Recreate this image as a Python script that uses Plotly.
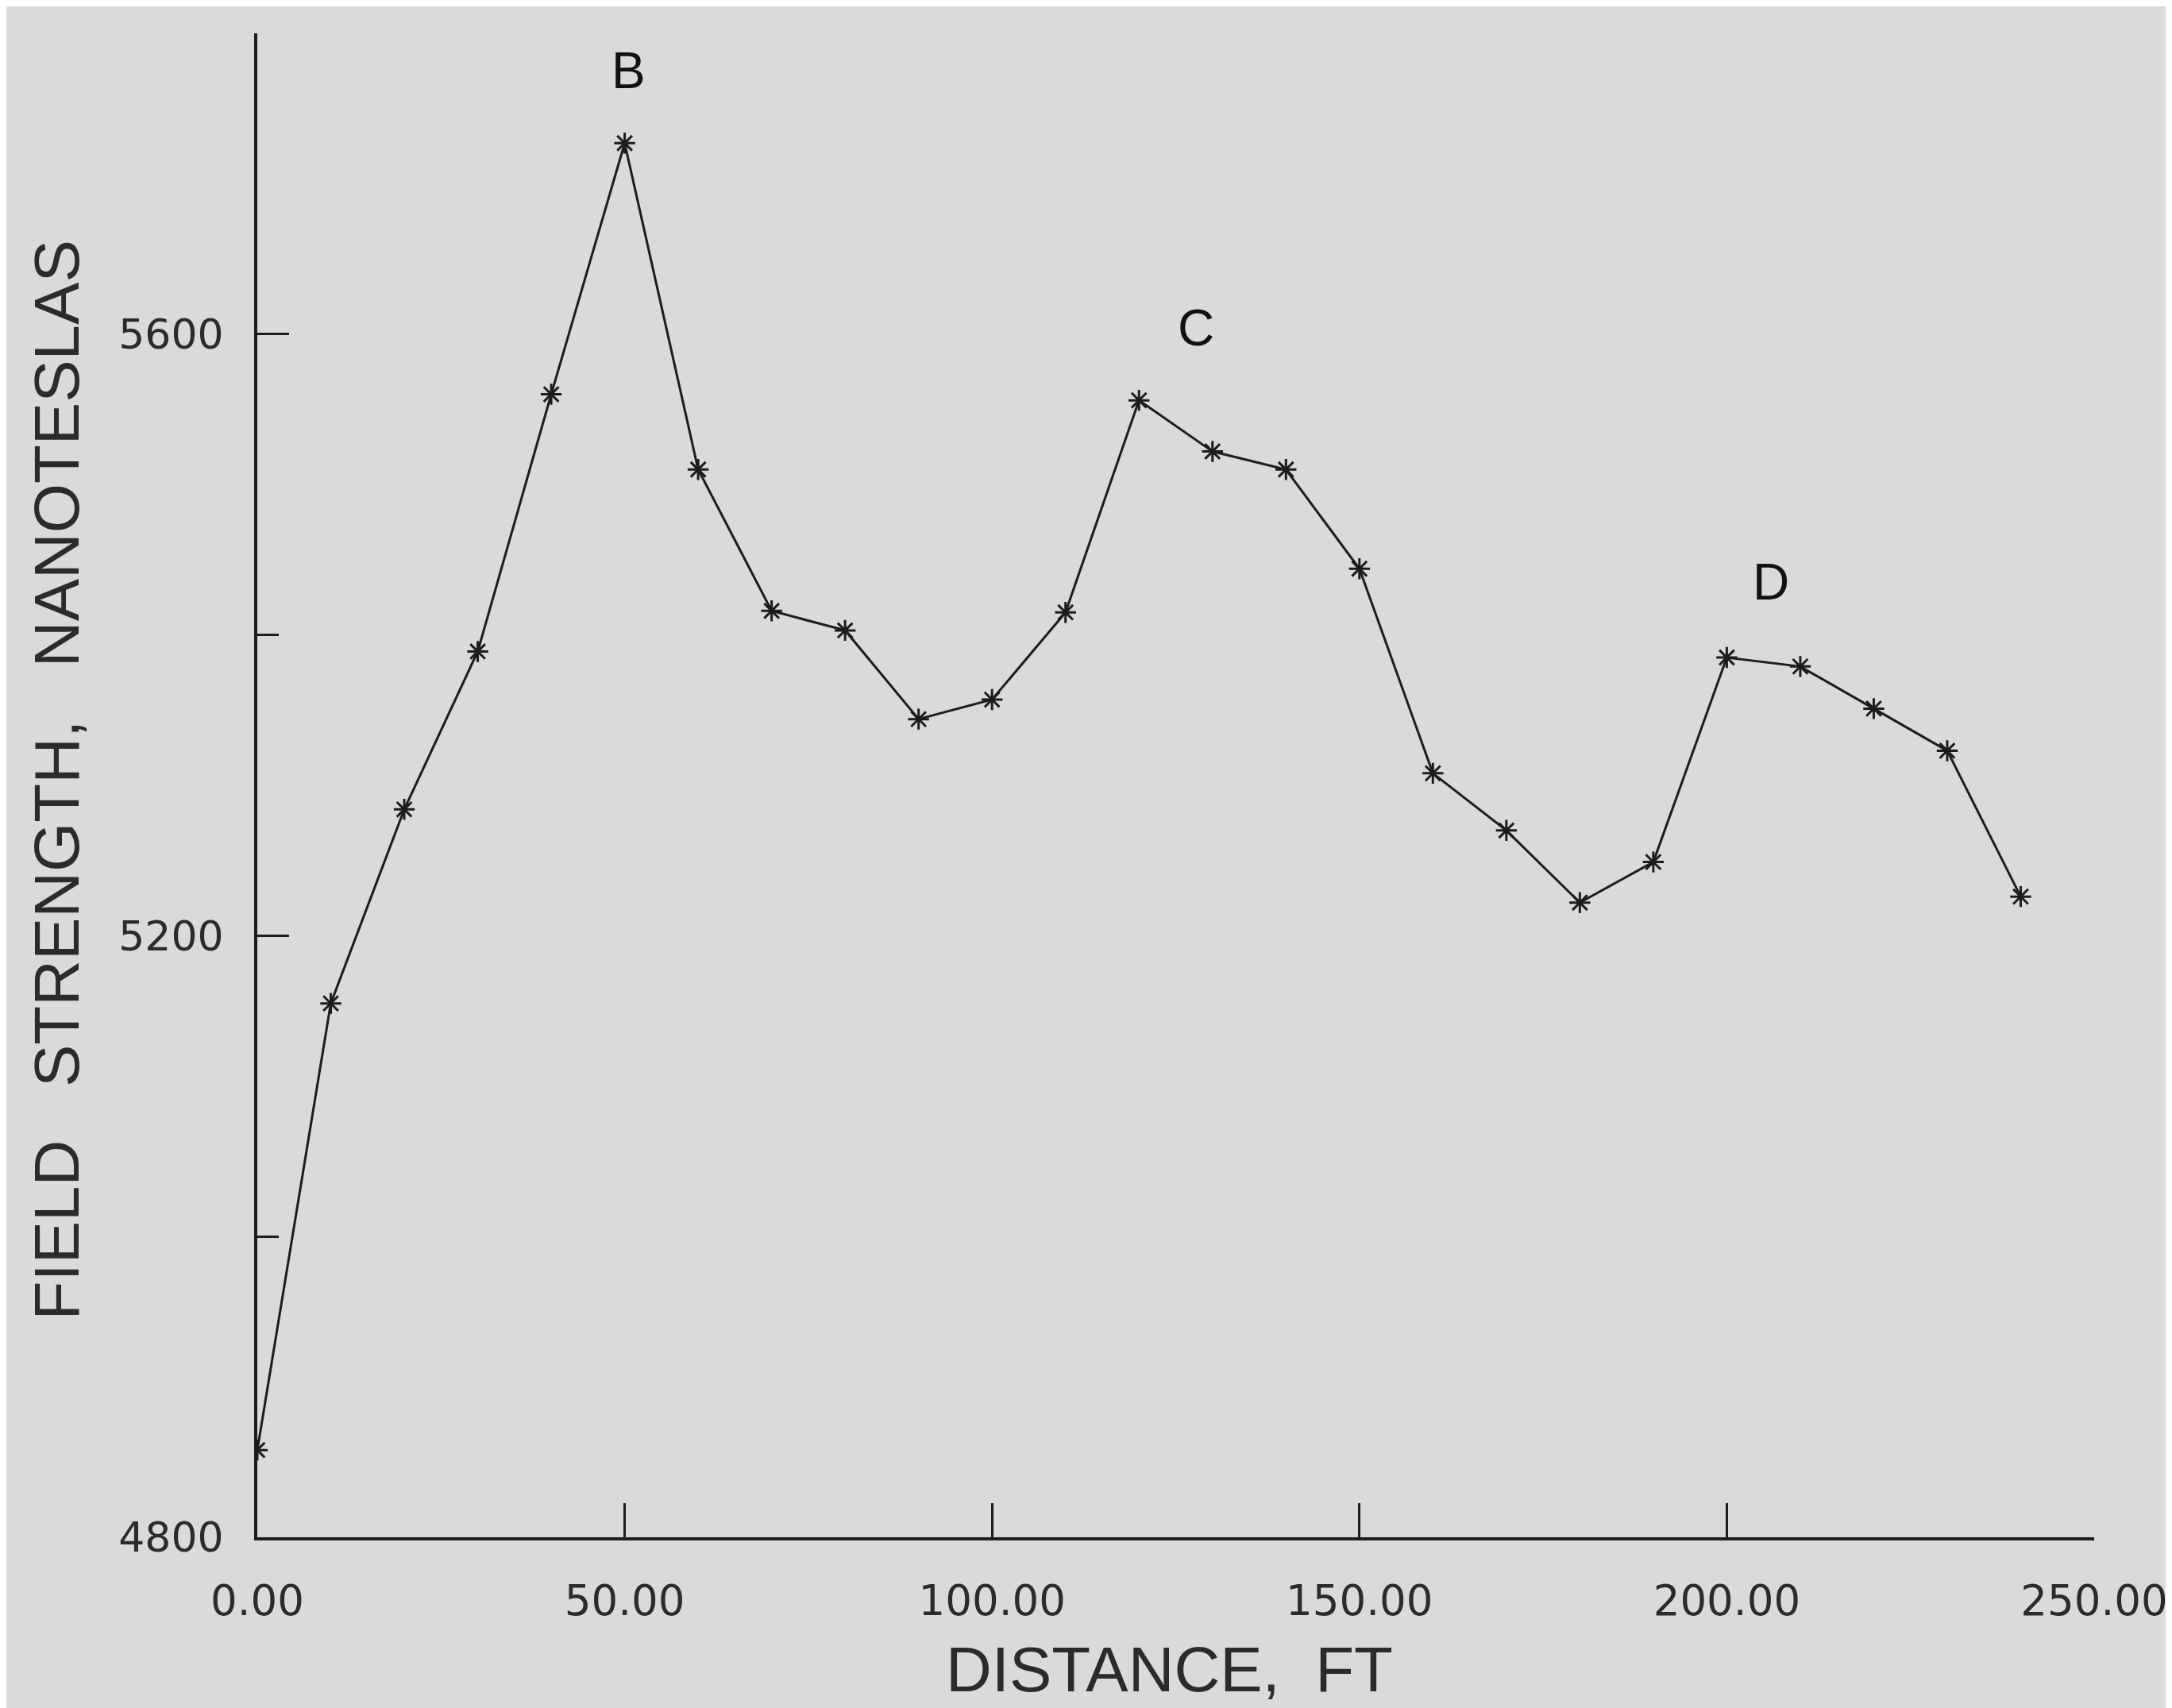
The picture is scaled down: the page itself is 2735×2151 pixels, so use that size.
import plotly.graph_objects as go

# ---- data ----
distance_ft = [0, 10, 20, 30, 40, 50, 60, 70, 80, 90, 100, 110, 120,
               130, 140, 150, 160, 170, 180, 190, 200, 210, 220, 230, 240]
field_nt = [4858, 5155, 5284, 5389, 5560, 5727, 5510, 5416, 5403, 5344,
            5357, 5415, 5556, 5522, 5510, 5444, 5308, 5270, 5222, 5249,
            5385, 5379, 5351, 5323, 5226]

peak_labels = ["B", "C", "D"]
peak_label_x = [50.5, 127.8, 206.0]
peak_label_y = [5775, 5604, 5435]

x_tickvals = [0, 50, 100, 150, 200, 250]
y_tickvals = [4800, 5200, 5600]
y_minor_tickvals = [5000, 5400, 5800]

x_title = "DISTANCE,  FT"
y_title = "FIELD   STRENGTH,   NANOTESLAS"

BG = "#dadada"
INK = "#1c1c1c"
TXT = "#2b2b2b"
X_TICK_FONT = dict(family="DejaVu Sans", size=53, color=TXT)
Y_TICK_FONT = dict(family="DejaVu Sans", size=52, color=TXT)
TITLE_FONT = dict(family="Liberation Sans, Arial", size=80, color=TXT)

fig = go.Figure()
fig.add_trace(go.Scatter(
    x=distance_ft, y=field_nt, mode="lines+markers",
    line=dict(color=INK, width=3),
    marker=dict(symbol="asterisk-open", size=22, line=dict(color=INK, width=3), color=INK),
    showlegend=False, hoverinfo="x+y",
))

for lab, lx, ly in zip(peak_labels, peak_label_x, peak_label_y):
    fig.add_annotation(x=lx, y=ly, text=lab, showarrow=False,
                       font=dict(family="Liberation Sans, Arial", size=64, color="#111111"),
                       xanchor="center", yanchor="middle")

fig.add_annotation(xref="paper", yref="paper", x=0.4967, y=-0.088, text=x_title,
                   showarrow=False, font=TITLE_FONT, xanchor="center", yanchor="middle")
fig.add_annotation(xref="paper", yref="paper", x=-0.109, y=0.5034, text=y_title,
                   showarrow=False, font=TITLE_FONT, textangle=-90,
                   xanchor="center", yanchor="middle")

fig.update_layout(
    width=2735, height=2151,
    paper_bgcolor=BG, plot_bgcolor=BG,
    margin=dict(l=316, r=106, t=34, b=223, pad=0),
)
fig.update_xaxes(
    range=[0, 250], tickvals=x_tickvals, tickformat=".2f",
    showgrid=False, zeroline=False, automargin=False,
    showline=True, linecolor=INK, linewidth=4,
    ticks="inside", ticklen=43, tickwidth=3, tickcolor=INK,
    tickfont=X_TICK_FONT, ticklabelstandoff=30,
)
fig.update_yaxes(
    range=[4800, 5800], tickvals=y_tickvals,
    showgrid=False, zeroline=False, automargin=False,
    showline=True, linecolor=INK, linewidth=4,
    ticks="inside", ticklen=40, tickwidth=3, tickcolor=INK,
    tickfont=Y_TICK_FONT, ticklabelstandoff=28,
    minor=dict(tickvals=y_minor_tickvals, ticks="inside", ticklen=27,
               tickwidth=3, tickcolor=INK, showgrid=False),
)

fig.write_html("out.html")
